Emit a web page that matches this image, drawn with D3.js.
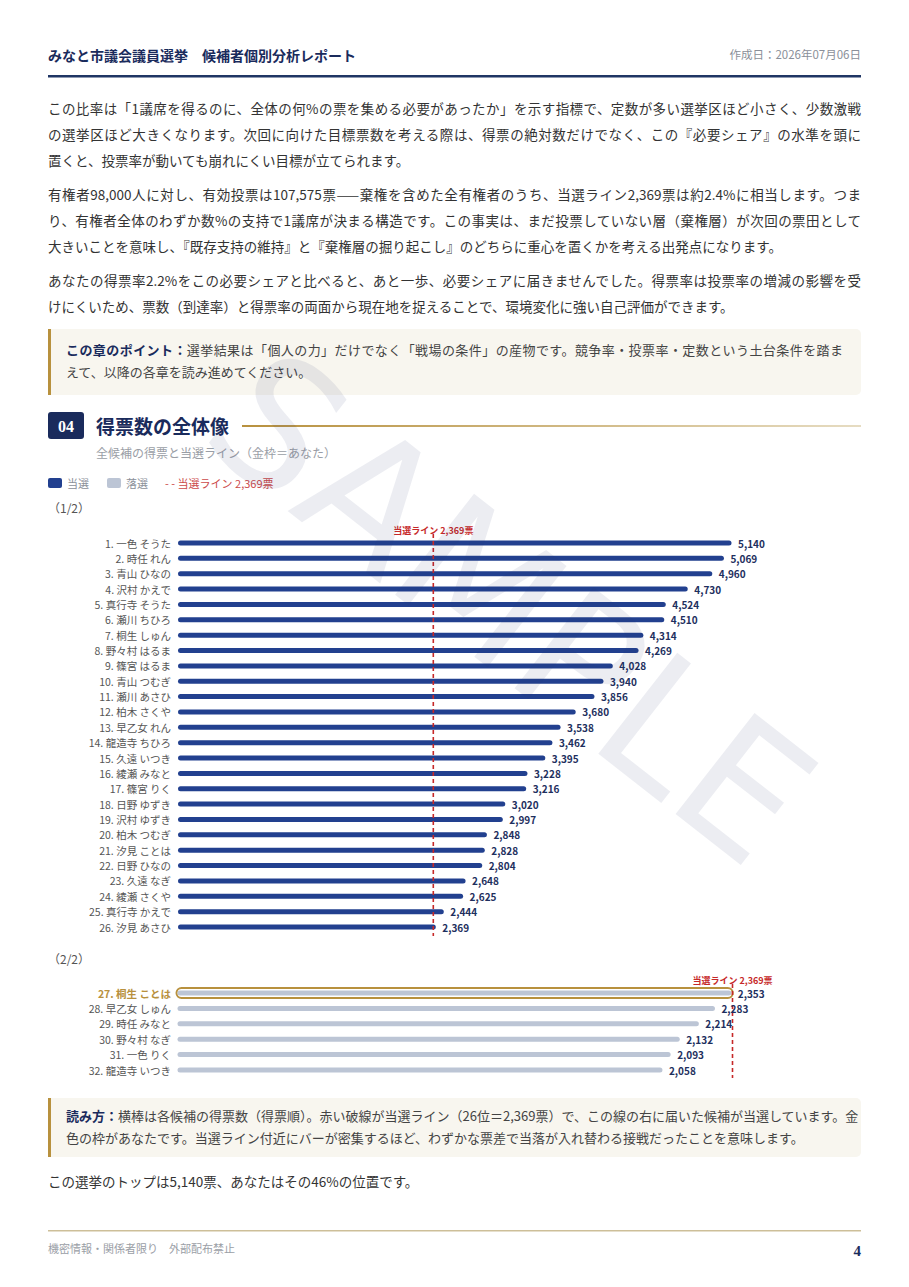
<!DOCTYPE html>
<html><head><meta charset="utf-8">
<script src="https://cdn.jsdelivr.net/npm/d3@7"></script>
<style>
body{margin:0;background:#fff;}
#page{position:relative;width:909px;height:1287px;overflow:hidden;font-family:"Noto Sans CJK JP","Noto Sans",sans-serif;color:#333;background:#fff;}
.ln{position:absolute;white-space:nowrap;}
.j{text-align:justify;text-align-last:justify;}
.box{position:absolute;left:48px;width:810px;background:#f8f6ef;border-left:3px solid #b8913e;border-radius:0 5px 5px 0;}
b.nv{color:#1a2b5c;font-weight:700;}
svg{position:absolute;left:0;top:0;}
</style></head>
<body><div id="page"></div>
<script>
// ---------- data ----------
const names = ["一色 そうた","時任 れん","青山 ひなの","沢村 かえで","真行寺 そうた","瀬川 ちひろ","桐生 しゅん","野々村 はるま","篠宮 はるま","青山 つむぎ","瀬川 あさひ","柏木 さくや","早乙女 れん","龍造寺 ちひろ","久遠 いつき","綾瀬 みなと","篠宮 りく","日野 ゆずき","沢村 ゆずき","柏木 つむぎ","汐見 ことは","日野 ひなの","久遠 なぎ","綾瀬 さくや","真行寺 かえで","汐見 あさひ","桐生 ことは","早乙女 しゅん","時任 みなと","野々村 なぎ","一色 りく","龍造寺 いつき"];
const votes = [5140,5069,4960,4730,4524,4510,4314,4269,4028,3940,3856,3680,3538,3462,3395,3228,3216,3020,2997,2848,2828,2804,2648,2625,2444,2369,2353,2283,2214,2132,2093,2058];
const seats = 26;
const winLine = 2369;
const youRank = 27;
const pageSplit = 26;
const legendLabels = ["当選","落選","- - 当選ライン 2,369票"];

const para1 = ["この比率は「1議席を得るのに、全体の何%の票を集める必要があったか」を示す指標で、定数が多い選挙区ほど小さく、少数激戦",
 "の選挙区ほど大きくなります。次回に向けた目標票数を考える際は、得票の絶対数だけでなく、この『必要シェア』の水準を頭に",
 "置くと、投票率が動いても崩れにくい目標が立てられます。"];
const para2 = ["有権者98,000人に対し、有効投票は107,575票——棄権を含めた全有権者のうち、当選ライン2,369票は約2.4%に相当します。つま",
 "り、有権者全体のわずか数%の支持で1議席が決まる構造です。この事実は、まだ投票していない層（棄権層）が次回の票田として",
 "大きいことを意味し、『既存支持の維持』と『棄権層の掘り起こし』のどちらに重心を置くかを考える出発点になります。"];
const para3 = ["あなたの得票率2.2%をこの必要シェアと比べると、あと一歩、必要シェアに届きませんでした。得票率は投票率の増減の影響を受",
 "けにくいため、票数（到達率）と得票率の両面から現在地を捉えることで、環境変化に強い自己評価ができます。"];
const note1 = ["<b class='nv'>この章のポイント：</b>選挙結果は「個人の力」だけでなく「戦場の条件」の産物です。競争率・投票率・定数という土台条件を踏ま",
 "えて、以降の各章を読み進めてください。"];
const note2 = ["<b class='nv'>読み方：</b>横棒は各候補の得票数（得票順）。赤い破線が当選ライン（26位＝2,369票）で、この線の右に届いた候補が当選しています。金",
 "色の枠があなたです。当選ライン付近にバーが密集するほど、わずかな票差で当落が入れ替わる接戦だったことを意味します。"];
const closing = "この選挙のトップは5,140票、あなたはその46%の位置です。";

// ---------- colours ----------
const NAVY="#1a2b5c", WIN="#22408f", LOSE="#bcc5d5", GOLD="#b8913e", RED="#c62828";

const page = d3.select("#page");

function lines(arr, left, width, topCenter, lh, fs, color){
  arr.forEach((t,i)=>{
    page.append("div").attr("class","ln"+(i<arr.length-1?" j":""))
      .style("left",left+"px").style("width",width+"px")
      .style("top",(topCenter+i*lh-lh/2)+"px").style("height",lh+"px")
      .style("line-height",lh+"px").style("font-size",fs+"px").style("color",color)
      .html(t);
  });
}
// callout boxes
page.append("div").attr("class","box").style("top","329px").style("height","66px");
page.append("div").attr("class","box").style("top","1098px").style("height","59px");

lines(para1,48,813,108,26,13.5,"#333");
lines(para2,48,813,195,25.8,13.5,"#333");
lines(para3,48,813,280,26,13.5,"#333");
lines(note1,66,777,350,22,13,"#444");
lines(note2,66,777,1116,22,13,"#444");
lines([closing],48,813,1181,26,13.5,"#333");

// ---------- svg ----------
const svg = page.append("svg").attr("width",909).attr("height",1287);
const F = "'Noto Sans CJK JP','Noto Sans',sans-serif";

// header
svg.append("text").attr("x",48).attr("y",55).attr("dominant-baseline","central")
  .attr("font-family",F).attr("font-size",14).attr("font-weight",700).attr("fill",NAVY)
  .text("みなと市議会議員選挙　候補者個別分析レポート");
svg.append("text").attr("x",861).attr("y",54).attr("dominant-baseline","central").attr("text-anchor","end")
  .attr("font-family",F).attr("font-size",11.5).attr("fill","#8a8f99").text("作成日：2026年07月06日");
svg.append("rect").attr("x",48).attr("y",75).attr("width",813).attr("height",2.5).attr("fill","#1f3564");

// section header
svg.append("rect").attr("x",48).attr("y",412).attr("width",36).attr("height",27).attr("rx",3).attr("fill",NAVY);
svg.append("text").attr("x",66).attr("y",426.5).attr("dominant-baseline","central").attr("text-anchor","middle")
  .attr("font-family","'Liberation Serif','DejaVu Serif',serif").attr("font-weight",700).attr("font-size",16).attr("fill","#fff").text("04");
svg.append("text").attr("x",96).attr("y",425).attr("dominant-baseline","central")
  .attr("font-family",F).attr("font-size",19).attr("font-weight",700).attr("fill",NAVY).text("得票数の全体像");
const grad = svg.append("defs").append("linearGradient").attr("id","gl").attr("x1","0").attr("x2","1");
grad.append("stop").attr("offset","0").attr("stop-color",GOLD);
grad.append("stop").attr("offset","1").attr("stop-color","#e6dcc2");
svg.append("rect").attr("x",242).attr("y",425).attr("width",619).attr("height",2).attr("fill","url(#gl)");
svg.append("text").attr("x",96).attr("y",452).attr("dominant-baseline","central")
  .attr("font-family",F).attr("font-size",12).attr("fill","#9a9ea6").text("全候補の得票と当選ライン（金枠＝あなた）");

// legend
const lg = svg.append("g").attr("font-family",F).attr("font-size",11);
lg.append("rect").attr("x",48).attr("y",478).attr("width",14).attr("height",10).attr("rx",2).attr("fill",WIN);
lg.append("text").attr("x",67).attr("y",483).attr("dominant-baseline","central").attr("fill","#8a8f99").text(legendLabels[0]);
lg.append("rect").attr("x",107).attr("y",478).attr("width",14).attr("height",10).attr("rx",2).attr("fill",LOSE);
lg.append("text").attr("x",126).attr("y",483).attr("dominant-baseline","central").attr("fill","#8a8f99").text(legendLabels[1]);
lg.append("text").attr("x",165).attr("y",483).attr("dominant-baseline","central").attr("fill","#cc4a4a").text(legendLabels[2]);

svg.append("text").attr("x",48).attr("y",507).attr("dominant-baseline","central")
  .attr("font-family",F).attr("font-size",12).attr("fill","#555").text("（1/2）");
svg.append("text").attr("x",48).attr("y",958).attr("dominant-baseline","central")
  .attr("font-family",F).attr("font-size",12).attr("fill","#555").text("（2/2）");

const rows = names.map((n,i)=>({rank:i+1,name:n,v:votes[i]}));

function drawPart(data, yRange, xRange, xMax, lineY){
  const g = svg.append("g");
  const y = d3.scalePoint().domain(data.map(d=>d.rank)).range(yRange);
  const x = d3.scaleLinear().domain([0,xMax]).range(xRange);
  g.selectAll("text.lab").data(data).join("text").attr("class","lab")
    .attr("x",171).attr("y",d=>y(d.rank)).attr("dominant-baseline","central").attr("text-anchor","end")
    .attr("font-family",F).attr("font-size",10.5)
    .attr("font-weight",d=>d.rank===youRank?700:400)
    .attr("fill",d=>d.rank===youRank?GOLD:"#555")
    .text(d=>d.rank+". "+d.name);
  data.filter(d=>d.rank===youRank).forEach(d=>{
    g.append("rect").attr("x",x(0)-3.5).attr("y",y(d.rank)-5).attr("width",x(d.v)-x(0)+7.5).attr("height",10)
      .attr("rx",5).attr("fill","none").attr("stroke",GOLD).attr("stroke-width",2);
  });
  g.selectAll("line.bar").data(data).join("line").attr("class","bar")
    .attr("x1",x(0)).attr("x2",d=>x(d.v)).attr("y1",d=>y(d.rank)).attr("y2",d=>y(d.rank))
    .attr("stroke",d=>d.rank<=seats?WIN:LOSE).attr("stroke-width",5).attr("stroke-linecap","round");
  g.append("line").attr("x1",x(winLine)).attr("x2",x(winLine)).attr("y1",lineY[0]).attr("y2",lineY[1])
    .attr("stroke",RED).attr("stroke-width",1.6).attr("stroke-dasharray","4,3");
  g.append("text").attr("x",x(winLine)).attr("y",lineY[0]-4).attr("dominant-baseline","central").attr("text-anchor","middle")
    .attr("font-family",F).attr("font-size",9).attr("font-weight",700).attr("fill",RED).text("当選ライン "+d3.format(",")(winLine)+"票");
  g.selectAll("text.val").data(data).join("text").attr("class","val")
    .attr("x",d=>x(d.v)+9).attr("y",d=>y(d.rank)).attr("dominant-baseline","central")
    .attr("font-family",F).attr("font-size",10).attr("font-weight",700).attr("fill","#1e2f5e")
    .text(d=>d3.format(",")(d.v));
}
const part1 = rows.slice(0,pageSplit), part2 = rows.slice(pageSplit);
drawPart(part1,[543,927],[180.5,729],d3.max(part1,d=>d.v),[534,936]);
drawPart(part2,[993,1070],[180,732.5],Math.max(winLine,d3.max(part2,d=>d.v)),[984,1078]);

// footer
svg.append("rect").attr("x",48).attr("y",1230).attr("width",813).attr("height",1.5).attr("fill","#cdbf99");
svg.append("text").attr("x",48).attr("y",1248).attr("dominant-baseline","central")
  .attr("font-family",F).attr("font-size",11).attr("fill","#9a9ea6").text("機密情報・関係者限り　外部配布禁止");
svg.append("text").attr("x",861).attr("y",1251).attr("dominant-baseline","central").attr("text-anchor","end")
  .attr("font-family","'Liberation Serif','DejaVu Serif',serif").attr("font-size",15).attr("font-weight",700).attr("fill",NAVY).text("4");

// watermark
svg.append("text").attr("transform","translate(510,608) rotate(38)")
  .attr("text-anchor","middle").attr("dominant-baseline","central")
  .attr("font-family","'DejaVu Sans','Noto Sans',sans-serif").attr("font-size",176).attr("font-weight",400)
  .attr("fill","rgba(40,60,110,0.09)").text("SAMPLE");
</script></body></html>
